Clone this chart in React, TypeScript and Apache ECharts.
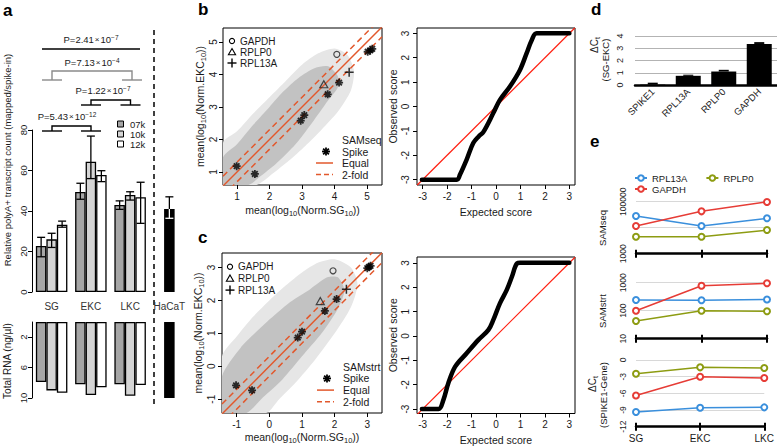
import React, { useEffect, useRef } from 'react';
import * as echarts from 'echarts';

const FONT = '"Liberation Sans", Arial, Helvetica, sans-serif';
const INK = '#1a1a1a';
const ORANGE = '#e2582c';
const QQRED = '#ff1f10';
const C07K = '#a6a6a6';
const C10K = '#d5d5d5';
const BLUE = '#3a8fdc';
const RED = '#e63c36';
const OLIVE = '#8d9c12';

// ---------------- panel a ----------------
const groupsA = ['SG', 'EKC', 'LKC', 'HaCaT'];
const countA07k = [22.7, 49.4, 43.0];
const countA10k = [26.0, 64.3, 47.9];
const countA12k = [33.2, 57.8, 46.8];
const countHaCaT = 41.0;
const errA07k = [[17.4, 27.0], [45.8, 53.7], [40.8, 45.0]];
const errA10k = [[22.0, 29.0], [56.0, 77.0], [45.4, 49.5]];
const errA12k = [[32.0, 35.0], [54.5, 59.9], [33.9, 54.2]];
const errHaCaT = [36.4, 47.0];
const rnaA07k = [7.9, 8.2, 8.2];
const rnaA10k = [9.0, 9.6, 9.7];
const rnaA12k = [9.3, 8.6, 8.3];
const rnaHaCaT = 10.0;
const rnaTicks = [2, 6, 10];
const pValues = [
  { mant: '2.41', exp: '−7' },
  { mant: '7.13', exp: '−4' },
  { mant: '1.22', exp: '−7' },
  { mant: '5.43', exp: '−12' },
];

// ---------------- panel b (SAMseq) ----------------
const bSpikeX = [0.99, 1.55, 2.96, 3.07, 3.79, 4.14, 5.02, 5.1, 5.16];
const bSpikeY = [1.18, 0.94, 2.58, 2.75, 3.39, 3.75, 4.7, 4.74, 4.79];
const bGAPDH = [4.07, 4.62];
const bRPLP0 = [3.67, 3.7];
const bRPL13A = [4.45, 4.07];
const bCloudOuter = [
  [0.57, 0.6], [0.57, 1.9], [1.0, 2.25], [1.5, 2.8], [2.0, 3.3], [2.5, 3.8], [3.0, 4.3],
  [3.5, 4.65], [4.0, 4.8], [4.4, 4.6], [4.6, 4.1], [4.5, 3.5], [4.1, 2.85], [3.6, 2.3],
  [3.1, 1.8], [2.6, 1.35], [2.1, 0.95], [1.6, 0.6],
];
const bCloudInner = [
  [0.57, 0.6], [0.57, 1.45], [1.0, 1.85], [1.5, 2.45], [2.0, 3.0], [2.4, 3.45], [2.9, 3.9],
  [3.4, 4.2], [3.8, 4.25], [4.1, 3.95], [4.1, 3.6], [3.8, 3.2], [3.3, 2.5], [2.8, 1.85],
  [2.2, 1.25], [1.7, 0.85], [1.35, 0.6],
];
const qqBExpected = [-3.03, -1.6, -1.47, -1.2, -0.93, -0.7, -0.52, -0.11, 0.16, 0.57, 0.98, 1.25, 1.46, 1.66, 3.0];
const qqBObserved = [-3.0, -3.0, -2.79, -2.18, -1.5, -1.22, -1.05, -0.27, 0.27, 0.82, 1.5, 2.18, 2.72, 3.0, 3.0];

// ---------------- panel c (SAMstrt) ----------------
const cSpikeX = [-1.02, -0.53, 0.87, 1.0, 1.7, 2.06, 3.0, 3.05, 3.1];
const cSpikeY = [-0.58, -0.73, 0.87, 1.05, 1.68, 2.04, 2.98, 3.02, 3.05];
const cGAPDH = [1.95, 2.9];
const cRPLP0 = [1.56, 1.98];
const cRPL13A = [2.36, 2.34];
const cCloudOuter = [
  [-1.45, -1.42], [-1.45, 0.3], [-1.0, 0.9], [-0.5, 1.5], [0.0, 2.0], [0.5, 2.45], [1.0, 2.85],
  [1.5, 3.15], [2.0, 3.25], [2.5, 3.0], [2.7, 2.5], [2.5, 1.8], [2.0, 1.0], [1.4, 0.2],
  [0.8, -0.5], [0.3, -1.0], [-0.1, -1.42],
];
const cCloudInner = [
  [-1.45, -1.42], [-1.45, -0.3], [-0.89, 0.55], [-0.07, 1.35], [0.64, 1.95], [1.26, 2.35],
  [1.77, 2.7], [2.1, 2.7], [2.3, 2.3], [2.1, 1.75], [1.6, 1.0], [1.0, 0.3], [0.4, -0.4],
  [-0.2, -0.95], [-0.7, -1.42],
];
const qqCExpected = [-3.03, -2.35, -2.15, -1.95, -1.67, -1.2, -0.72, -0.31, -0.11, 0.16, 0.44, 0.65, 0.86, 0.98, 3.0];
const qqCObserved = [-3.0, -3.0, -2.62, -1.94, -1.26, -0.71, -0.16, 0.25, 0.66, 1.34, 1.89, 2.43, 2.98, 3.0, 3.0];

// ---------------- panel d ----------------
const dGenes = ['SPIKE1', 'RPL13A', 'RPLP0', 'GAPDH'];
const dDeltaCt = [0.03, 0.75, 1.1, 3.35];
const dErrTop = [0.19, 0.84, 1.24, 3.5];

// ---------------- panel e ----------------
const eStages = ['SG', 'EKC', 'LKC'];
const eSeqRPL13A = [28000, 11700, 23000];
const eSeqGAPDH = [11700, 42600, 98000];
const eSeqRPLP0 = [4500, 4500, 8100];
const eStrtRPL13A = [240, 235, 250];
const eStrtGAPDH = [100, 780, 950];
const eStrtRPLP0 = [43, 100, 95];
const eDctRPL13A = [-9.36, -8.58, -8.52];
const eDctGAPDH = [-6.4, -3.0, -3.24];
const eDctRPLP0 = [-2.46, -1.32, -1.44];

// ---------------- helpers ----------------
const FOLD = Math.log10(2);
const B_X = [0.57, 5.46];
const B_Y = [0.6, 5.43];
const C_X = [-1.45, 3.45];
const C_Y = [-1.42, 3.44];
const QQ_X = [-3.23, 3.23];
const QQB_Y = [-3.22, 3.22];
const QQC_Y = [-3.18, 3.24];

const subRich = {
  t: { fontSize: 10.5, fontFamily: FONT, color: INK, lineHeight: 13, verticalAlign: 'top' },
  s: { fontSize: 7.5, fontFamily: FONT, color: INK, lineHeight: 9, verticalAlign: 'top', padding: [5, 0, 0, 0] },
};

function boxX(g: number, ext: number[], ticks: number[], name: string, gap: number, rich = false) {
  return {
    type: 'value', gridIndex: g, min: ext[0], max: ext[1],
    axisLine: { show: false, onZero: false },
    axisTick: { show: true, length: 4, customValues: ticks, lineStyle: { color: '#000' } },
    axisLabel: { customValues: ticks, margin: 6, fontSize: 10, color: INK, fontFamily: FONT },
    splitLine: { show: false },
    name, nameLocation: 'middle', nameGap: gap,
    nameTextStyle: rich ? { rich: subRich } : { fontSize: 10.5, color: INK, fontFamily: FONT },
  };
}
function boxY(g: number, ext: number[], ticks: number[], name: string, gap: number, margin: number, rich = false) {
  return {
    type: 'value', gridIndex: g, min: ext[0], max: ext[1],
    axisLine: { show: false, onZero: false },
    axisTick: { show: true, length: 4, customValues: ticks, lineStyle: { color: '#000' } },
    axisLabel: { customValues: ticks, margin, rotate: 90, fontSize: 10, color: INK, fontFamily: FONT },
    splitLine: { show: false },
    name, nameLocation: 'middle', nameGap: gap, nameRotate: 90,
    nameTextStyle: rich ? { rich: subRich } : { fontSize: 10.5, color: INK, fontFamily: FONT },
  };
}

function cloud(i: number, poly: number[][], color: string) {
  return {
    type: 'custom', xAxisIndex: i, yAxisIndex: i, data: poly, silent: true, clip: true, z: 1,
    renderItem: (params: any, api: any) => {
      if (params.dataIndex !== 0) return null;
      const pts = poly.map((p) => api.coord(p));
      return { type: 'polygon', shape: { points: pts, smooth: 0.25 }, style: { fill: color } };
    },
  };
}

function diag(i: number, ext: number[], off: number, dashed: boolean, color: string, width: number) {
  return {
    type: 'line', xAxisIndex: i, yAxisIndex: i, data: ext.map((v) => [v, v + off]),
    symbol: 'none', silent: true, z: 3, clip: true,
    lineStyle: { color, width, type: dashed ? [6, 4] : 'solid' },
  };
}

const STAR = 'path://M5,0L5,10M0,5L10,5M1.5,1.5L8.5,8.5M1.5,8.5L8.5,1.5';
const PLUS = 'path://M5,0L5,10M0,5L10,5';

function markers(i: number, sx: number[], sy: number[], g: number[], p0: number[], l13: number[]) {
  return [
    {
      type: 'scatter', xAxisIndex: i, yAxisIndex: i, z: 6, silent: true,
      data: sx.map((x, k) => [x, sy[k]]), symbol: STAR, symbolSize: 8,
      itemStyle: { color: 'none', borderColor: '#000', borderWidth: 1.8 },
    },
    {
      type: 'scatter', xAxisIndex: i, yAxisIndex: i, z: 6, silent: true, data: [g],
      symbol: 'circle', symbolSize: 6, itemStyle: { color: 'rgba(0,0,0,0)', borderColor: '#222', borderWidth: 1.2 },
    },
    {
      type: 'scatter', xAxisIndex: i, yAxisIndex: i, z: 6, silent: true, data: [p0],
      symbol: 'path://M5,0L10,9L0,9Z', symbolSize: [8, 7], itemStyle: { color: 'rgba(0,0,0,0)', borderColor: '#222', borderWidth: 1.2 },
    },
    {
      type: 'scatter', xAxisIndex: i, yAxisIndex: i, z: 6, silent: true, data: [l13],
      symbol: PLUS, symbolSize: 9, itemStyle: { color: 'none', borderColor: '#000', borderWidth: 1.5 },
    },
  ];
}

function qqLine(i: number, xs: number[], ys: number[]) {
  return {
    type: 'line', xAxisIndex: i, yAxisIndex: i, data: xs.map((x, k) => [x, ys[k]]),
    symbol: 'none', smooth: 0.35, silent: true, z: 4, clip: true,
    lineStyle: { color: '#000', width: 4.5, cap: 'round', join: 'round' },
  };
}

function line(x1: number, y1: number, x2: number, y2: number, stroke = '#000', w = 1.3, dash?: number[]) {
  return { type: 'line', silent: true, shape: { x1, y1, x2, y2 }, style: { stroke, lineWidth: w, lineDash: dash } };
}
function txt(x: number, y: number, text: string, opts: any = {}) {
  return {
    type: 'text', x, y, silent: true, rotation: opts.rotation || 0,
    style: {
      text, fill: opts.fill || INK, fontSize: opts.fontSize || 10, fontFamily: FONT,
      fontWeight: opts.fontWeight || 'normal', align: opts.align || 'left', verticalAlign: opts.verticalAlign || 'middle',
      rich: opts.rich, lineHeight: opts.lineHeight,
    },
  };
}
function asterisk(cx: number, cy: number, r: number) {
  const d = r * 0.72;
  return {
    type: 'group', silent: true, children: [
      line(cx - r, cy, cx + r, cy, '#000', 1.8), line(cx, cy - r, cx, cy + r, '#000', 1.8),
      line(cx - d, cy - d, cx + d, cy + d, '#000', 1.8), line(cx - d, cy + d, cx + d, cy - d, '#000', 1.8),
    ],
  };
}
function scatterLegend(x: number, y0: number, dy: number) {
  const o = { fontSize: 10, lineHeight: 9 };
  return [
    { type: 'circle', silent: true, shape: { cx: x, cy: y0, r: 2.6 }, style: { fill: 'none', stroke: '#000', lineWidth: 1.1 } },
    { type: 'polygon', silent: true, shape: { points: [[x, y0 + dy - 3.5], [x + 3.6, y0 + dy + 2.8], [x - 3.6, y0 + dy + 2.8]] }, style: { fill: 'none', stroke: '#000', lineWidth: 1.1 } },
    line(x - 4.5, y0 + 2 * dy, x + 4.5, y0 + 2 * dy, '#000', 1.4), line(x, y0 + 2 * dy - 4.5, x, y0 + 2 * dy + 4.5, '#000', 1.4),
    txt(x + 8, y0, 'GAPDH', o), txt(x + 8, y0 + dy, 'RPLP0', o), txt(x + 8, y0 + 2 * dy, 'RPL13A', o),
  ];
}
function methodLegend(title: string, tx: number, y0: number, dy: number) {
  const lx1 = tx - 26, lx2 = tx - 9, sx = tx - 16;
  const o = { fontSize: 10.5, lineHeight: 10 };
  return [
    txt(tx, y0, title, o),
    asterisk(sx, y0 + dy, 4),
    txt(tx, y0 + dy, 'Spike', o),
    line(lx1, y0 + 2 * dy, lx2, y0 + 2 * dy, ORANGE, 1.5),
    txt(tx, y0 + 2 * dy, 'Equal', o),
    line(lx1, y0 + 3 * dy, lx2, y0 + 3 * dy, ORANGE, 1.5, [5, 3]),
    txt(tx, y0 + 3 * dy, '2-fold', o),
  ];
}

const pRich = {
  t: { fontSize: 9.5, fontFamily: FONT, color: INK, lineHeight: 12, verticalAlign: 'top' },
  x: { fontSize: 8, fontFamily: FONT, color: INK, lineHeight: 12, verticalAlign: 'top', padding: [1, 1, 0, 1] },
  e: { fontSize: 6.5, fontFamily: FONT, color: INK, lineHeight: 8, verticalAlign: 'top' },
};
const pText = (i: number) => `{t|P=${pValues[i].mant}}{x|×}{t|10}{e|${pValues[i].exp}}`;

function bracket(xl: number, xr: number, ytop: number, ybot: number, stroke: string) {
  return {
    type: 'group', silent: true, children: [
      { type: 'polyline', shape: { points: [[xl, ybot], [xl, ytop], [xr, ytop], [xr, ybot]] }, style: { stroke, lineWidth: 1.4, fill: 'none' } },
      line(xl - 10, ybot, xl + 10, ybot, stroke, 1.4),
      line(xr - 10, ybot, xr + 10, ybot, stroke, 1.4),
    ],
  };
}

function errSeries(xi: number, items: number[][], slotW: number, cap: number, split: boolean) {
  return {
    type: 'custom', xAxisIndex: xi, yAxisIndex: xi, data: items, silent: true, z: 8,
    renderItem: (params: any, api: any) => {
      const cat = api.value(0);
      const lo = api.coord([cat, api.value(1)]);
      const hi = api.coord([cat, api.value(2)]);
      const x = lo[0] + api.value(3) * slotW;
      const st = { stroke: '#000', lineWidth: 1.3 };
      const children: any[] = [
        { type: 'line', shape: { x1: x, y1: lo[1], x2: x, y2: hi[1] }, style: st },
        { type: 'line', shape: { x1: x - cap, y1: lo[1], x2: x + cap, y2: lo[1] }, style: st },
        { type: 'line', shape: { x1: x - cap, y1: hi[1], x2: x + cap, y2: hi[1] }, style: st },
      ];
      if (split) {
        const top = api.coord([cat, api.value(4)]);
        const ws = { stroke: '#fff', lineWidth: 1.3 };
        children.push({ type: 'line', shape: { x1: x, y1: lo[1], x2: x, y2: top[1] }, style: ws });
        children.push({ type: 'line', shape: { x1: x - cap, y1: lo[1], x2: x + cap, y2: lo[1] }, style: ws });
      }
      return { type: 'group', children };
    },
  };
}

function eXAxes(g: number, labels: boolean) {
  const common = {
    type: 'category', gridIndex: g, data: eStages, boundaryGap: false, position: 'bottom',
    splitLine: { show: false },
  };
  return [
    {
      ...common,
      axisLine: { show: true, onZero: false, lineStyle: { color: '#000', width: 2.5 } },
      axisTick: { show: true, length: 4, lineStyle: { color: '#000', width: 2 } },
      axisLabel: { show: labels, interval: 0, margin: 7, fontSize: 10, color: INK, fontFamily: FONT },
    },
    {
      ...common,
      axisLine: { show: false, onZero: false },
      axisTick: { show: true, inside: true, length: 4, lineStyle: { color: '#000', width: 2 } },
      axisLabel: { show: false },
    },
  ];
}

function eLine(xi: number, yi: number, name: string, data: number[], color: string) {
  return {
    type: 'line', name, xAxisIndex: xi, yAxisIndex: yi, data, z: 5,
    symbol: 'emptyCircle', symbolSize: 6, showSymbol: true,
    lineStyle: { color, width: 1.5 }, itemStyle: { color, borderColor: color, borderWidth: 1.6 },
  };
}

const eGrid = '#d8d8d8';

function buildOption(): any {
  const grid = [
    { left: 32, top: 130, width: 157, height: 162 },
    { left: 32, top: 322, width: 157, height: 76 },
    { left: 223, top: 28, width: 159, height: 157, show: true, borderColor: '#000', borderWidth: 1 },
    { left: 417, top: 28, width: 158, height: 157, show: true, borderColor: '#000', borderWidth: 1 },
    { left: 222, top: 253, width: 160, height: 160, show: true, borderColor: '#000', borderWidth: 1 },
    { left: 417, top: 257, width: 158, height: 156.5, show: true, borderColor: '#000', borderWidth: 1 },
    { left: 635, top: 36, width: 142, height: 49 },
    { left: 636, top: 201.7, width: 131, height: 52 },
    { left: 636, top: 282.7, width: 131, height: 56 },
    { left: 636, top: 360, width: 131, height: 66.7 },
  ];

  const xAxis: any[] = [
    {
      type: 'category', gridIndex: 0, data: groupsA,
      axisLine: { show: false, onZero: false }, axisTick: { show: false },
      axisLabel: { interval: 0, margin: 9, fontSize: 10, color: '#333', fontFamily: FONT },
    },
    { type: 'category', gridIndex: 1, data: groupsA, axisLine: { show: false, onZero: false }, axisTick: { show: false }, axisLabel: { show: false } },
    boxX(2, B_X, [1, 2, 3, 4, 5], '{t|mean(log}{s|10}{t|(Norm.SG}{s|10}{t|))}', 19, true),
    boxX(3, QQ_X, [-3, -2, -1, 0, 1, 2, 3], 'Expected score', 21),
    boxX(4, C_X, [-1, 0, 1, 2, 3], '{t|mean(log}{s|10}{t|(Norm.SG}{s|10}{t|))}', 18, true),
    boxX(5, QQ_X, [-3, -2, -1, 0, 1, 2, 3], 'Expected score', 21),
    {
      type: 'category', gridIndex: 6, data: dGenes,
      axisLine: { show: true, onZero: false, lineStyle: { color: '#000', width: 2.5 } },
      axisTick: { show: false },
      axisLabel: { interval: 0, rotate: 45, margin: 5, fontSize: 9.5, color: INK, fontFamily: FONT },
    },
    ...eXAxes(7, false),
    ...eXAxes(8, false),
    ...eXAxes(9, true),
  ];

  const yAxis: any[] = [
    {
      type: 'value', gridIndex: 0, min: 0, max: 80, interval: 20,
      axisLine: { show: true, lineStyle: { color: '#000', width: 1 } },
      axisTick: { show: true, length: 4, lineStyle: { color: '#000' } },
      axisLabel: { rotate: 90, margin: 4, fontSize: 9.5, color: INK, fontFamily: FONT },
      splitLine: { show: false },
    },
    {
      type: 'value', gridIndex: 1, min: 0, max: 10, inverse: true,
      axisLine: { show: true, lineStyle: { color: '#000', width: 1 } },
      axisTick: { show: true, length: 4, customValues: rnaTicks, lineStyle: { color: '#000' } },
      axisLabel: { customValues: rnaTicks, rotate: 90, margin: 4, fontSize: 9.5, color: INK, fontFamily: FONT },
      splitLine: { show: false },
    },
    boxY(2, B_Y, [1, 2, 3, 4, 5], '{t|mean(log}{s|10}{t|(Norm.EKC}{s|10}{t|))}', 13, 5, true),
    boxY(3, QQB_Y, [-3, -2, -1, 0, 1, 2, 3], 'Observed score', 19, 7),
    boxY(4, C_Y, [-1, 0, 1, 2, 3], '{t|mean(log}{s|10}{t|(Norm.EKC}{s|10}{t|))}', 15, 6, true),
    boxY(5, QQC_Y, [-3, -2, -1, 0, 1, 2, 3], 'Observed score', 19, 7),
    {
      type: 'value', gridIndex: 6, min: 0, max: 4, interval: 1,
      axisLine: { show: false }, axisTick: { show: false },
      axisLabel: { rotate: 90, margin: 11, fontSize: 9, color: INK, fontFamily: FONT },
      splitLine: { show: true, lineStyle: { color: '#b3b3b3', width: 1 } },
    },
    {
      type: 'log', gridIndex: 7, min: 1000, max: 100000, logBase: 10,
      axisLine: { show: false }, axisTick: { show: false },
      axisLabel: {
        rotate: 90, margin: 9, fontSize: 8.5, color: INK, fontFamily: FONT,
        formatter: (v: number) => (Math.abs(Math.log10(v) - 4) < 0.01 ? '' : String(Math.round(v))),
      },
      splitLine: { show: true, lineStyle: { color: eGrid, width: 1 } },
    },
    {
      type: 'log', gridIndex: 8, min: 10, max: 1000, logBase: 10,
      axisLine: { show: false }, axisTick: { show: false },
      axisLabel: { rotate: 90, margin: 9, fontSize: 8.5, color: INK, fontFamily: FONT, formatter: (v: number) => String(Math.round(v)) },
      splitLine: { show: true, lineStyle: { color: eGrid, width: 1 } },
    },
    {
      type: 'value', gridIndex: 9, min: -12, max: 0, interval: 3,
      axisLine: { show: false }, axisTick: { show: false },
      axisLabel: { rotate: 90, margin: 9, fontSize: 8.5, color: INK, fontFamily: FONT },
      splitLine: { show: true, lineStyle: { color: eGrid, width: 1 } },
    },
  ];

  const barStyle = (color: string) => ({ color, borderColor: '#000', borderWidth: 1.3 });
  const black = (v: number) => ({ value: v, itemStyle: { color: '#000', borderColor: '#000' } });

  const errItemsA = [
    ...errA07k.map((e, i) => [i, e[0], e[1], -1]),
    ...errA10k.map((e, i) => [i, e[0], e[1], 0]),
    ...errA12k.map((e, i) => [i, e[0], e[1], 1]),
  ];

  const series: any[] = [
    // a top
    { type: 'bar', name: '07k', xAxisIndex: 0, yAxisIndex: 0, data: [...countA07k, '-'], barWidth: 10.5, barGap: '0%', itemStyle: barStyle(C07K) },
    { type: 'bar', name: '10k', xAxisIndex: 0, yAxisIndex: 0, data: [...countA10k, black(countHaCaT)], barWidth: 10.5, barGap: '0%', itemStyle: barStyle(C10K) },
    { type: 'bar', name: '12k', xAxisIndex: 0, yAxisIndex: 0, data: [...countA12k, '-'], barWidth: 10.5, barGap: '0%', itemStyle: barStyle('#ffffff') },
    errSeries(0, errItemsA, 10.5, 4, false),
    errSeries(0, [[3, errHaCaT[0], errHaCaT[1], 0, countHaCaT]], 10.5, 4, true),
    // a bottom
    { type: 'bar', name: 'r07k', xAxisIndex: 1, yAxisIndex: 1, data: [...rnaA07k, '-'], barWidth: 10.5, barGap: '0%', itemStyle: barStyle(C07K) },
    { type: 'bar', name: 'r10k', xAxisIndex: 1, yAxisIndex: 1, data: [...rnaA10k, black(rnaHaCaT)], barWidth: 10.5, barGap: '0%', itemStyle: barStyle(C10K) },
    { type: 'bar', name: 'r12k', xAxisIndex: 1, yAxisIndex: 1, data: [...rnaA12k, '-'], barWidth: 10.5, barGap: '0%', itemStyle: barStyle('#ffffff') },
    // b
    cloud(2, bCloudOuter, '#e6e6e6'),
    cloud(2, bCloudInner, '#c2c2c2'),
    diag(2, B_X, 0, false, ORANGE, 1.5),
    diag(2, B_X, FOLD, true, ORANGE, 1.5),
    diag(2, B_X, -FOLD, true, ORANGE, 1.5),
    ...markers(2, bSpikeX, bSpikeY, bGAPDH, bRPLP0, bRPL13A),
    // b QQ
    qqLine(3, qqBExpected, qqBObserved),
    diag(3, QQ_X, 0, false, QQRED, 1.2),
    // c
    cloud(4, cCloudOuter, '#e6e6e6'),
    cloud(4, cCloudInner, '#c2c2c2'),
    diag(4, C_X, 0, false, ORANGE, 1.5),
    diag(4, C_X, FOLD, true, ORANGE, 1.5),
    diag(4, C_X, -FOLD, true, ORANGE, 1.5),
    ...markers(4, cSpikeX, cSpikeY, cGAPDH, cRPLP0, cRPL13A),
    // c QQ
    qqLine(5, qqCExpected, qqCObserved),
    diag(5, QQ_X, 0, false, QQRED, 1.2),
    // d
    { type: 'bar', name: 'dct', xAxisIndex: 6, yAxisIndex: 6, data: dDeltaCt, barWidth: 25, itemStyle: { color: '#000' } },
    {
      type: 'custom', xAxisIndex: 6, yAxisIndex: 6, silent: true, z: 8,
      data: dErrTop.map((e, i) => [i, dDeltaCt[i], e]),
      renderItem: (params: any, api: any) => {
        const a = api.coord([api.value(0), api.value(1)]);
        const b = api.coord([api.value(0), api.value(2)]);
        return { type: 'rect', shape: { x: a[0] - 5, y: b[1], width: 10, height: a[1] - b[1] }, style: { fill: '#000' } };
      },
    },
    // e
    eLine(7, 7, 'RPL13A', eSeqRPL13A, BLUE),
    eLine(7, 7, 'GAPDH', eSeqGAPDH, RED),
    eLine(7, 7, 'RPLP0', eSeqRPLP0, OLIVE),
    eLine(9, 8, 'RPL13A', eStrtRPL13A, BLUE),
    eLine(9, 8, 'GAPDH', eStrtGAPDH, RED),
    eLine(9, 8, 'RPLP0', eStrtRPLP0, OLIVE),
    eLine(11, 9, 'RPL13A', eDctRPL13A, BLUE),
    eLine(11, 9, 'GAPDH', eDctGAPDH, RED),
    eLine(11, 9, 'RPLP0', eDctRPLP0, OLIVE),
  ];

  const legendText = { fontSize: 9.5, color: INK, fontFamily: FONT };
  const legend = [
    { data: ['RPL13A', 'RPLP0'], left: 634, top: 173, itemWidth: 12, itemHeight: 7, itemGap: 18, selectedMode: false, textStyle: legendText, padding: 0 },
    { data: ['GAPDH'], left: 634, top: 184, itemWidth: 12, itemHeight: 7, selectedMode: false, textStyle: legendText, padding: 0 },
  ];

  const dRich = {
    t: { fontSize: 10, fontFamily: FONT, color: INK, lineHeight: 12, verticalAlign: 'top' },
    s: { fontSize: 7, fontFamily: FONT, color: INK, lineHeight: 8, verticalAlign: 'top', padding: [5, 0, 0, 0] },
  };

  const graphic: any[] = [
    // panel letters
    txt(3, 10, 'a', { fontSize: 17, fontWeight: 'bold', fill: '#000' }),
    txt(198, 9.5, 'b', { fontSize: 17, fontWeight: 'bold', fill: '#000' }),
    txt(198, 237.5, 'c', { fontSize: 17, fontWeight: 'bold', fill: '#000' }),
    txt(591, 9.5, 'd', { fontSize: 17, fontWeight: 'bold', fill: '#000' }),
    txt(590, 141.5, 'e', { fontSize: 17, fontWeight: 'bold', fill: '#000' }),
    // panel a annotations
    txt(7, 160, 'Relative polyA+ transcript count (mapped/spike-in)', { rotation: Math.PI / 2, align: 'center', fontSize: 9.5 }),
    txt(7, 361, 'Total RNA (ng/µl)', { rotation: Math.PI / 2, align: 'center', fontSize: 10 }),
    line(154, 30, 154, 406, '#000', 1.5, [5, 4]),
    line(42, 49, 140, 49, '#000', 1.4),
    txt(91, 40, pText(0), { align: 'center', rich: pRich }),
    bracket(52, 132, 71, 80, '#8a8a8a'),
    txt(92, 63, pText(1), { align: 'center', rich: pRich }),
    bracket(91, 130.5, 100, 105, '#000'),
    txt(103, 91, pText(2), { align: 'center', rich: pRich }),
    bracket(52, 91, 126, 131, '#000'),
    txt(67, 117, pText(3), { align: 'center', rich: pRich }),
    { type: 'rect', silent: true, shape: { x: 117.5, y: 121, width: 6, height: 6 }, style: { fill: C07K, stroke: '#000', lineWidth: 1 } },
    { type: 'rect', silent: true, shape: { x: 117.5, y: 131, width: 6, height: 6 }, style: { fill: C10K, stroke: '#000', lineWidth: 1 } },
    { type: 'rect', silent: true, shape: { x: 117.5, y: 141, width: 6, height: 6 }, style: { fill: '#fff', stroke: '#000', lineWidth: 1 } },
    txt(130, 124, '07k', { fontSize: 9.5 }),
    txt(130, 134, '10k', { fontSize: 9.5 }),
    txt(130, 144, '12k', { fontSize: 9.5 }),
    // panel b / c legends
    ...scatterLegend(232, 41, 11),
    ...methodLegend('SAMseq', 342, 140, 11.5),
    ...scatterLegend(230, 266.7, 11.7),
    ...methodLegend('SAMstrt', 343, 366.7, 11.7),
    // panel d/e y labels
    txt(595, 45, '{t|ΔC}{s|t}', { rotation: Math.PI / 2, align: 'center', rich: dRich }),
    txt(605, 60, '(SG-EKC)', { rotation: Math.PI / 2, align: 'center', fontSize: 9.5 }),
    txt(602, 228, 'SAMseq', { rotation: Math.PI / 2, align: 'center', fontSize: 9.5 }),
    txt(602, 311, 'SAMstrt', { rotation: Math.PI / 2, align: 'center', fontSize: 9.5 }),
    txt(593, 384, '{t|ΔC}{s|t}', { rotation: Math.PI / 2, align: 'center', rich: dRich }),
    txt(603, 395, '(SPIKE1-Gene)', { rotation: Math.PI / 2, align: 'center', fontSize: 9.5 }),
  ];

  return { animation: false, backgroundColor: '#fff', grid, xAxis, yAxis, series, legend, graphic };
}

export default function App() {
  const ref = useRef<HTMLDivElement>(null);
  useEffect(() => {
    document.body.style.margin = '0';
    const chart = echarts.init(ref.current as HTMLDivElement, null, { renderer: 'svg' });
    chart.setOption(buildOption());
    return () => chart.dispose();
  }, []);
  return <div ref={ref} style={{ width: 777, height: 447 }} />;
}
